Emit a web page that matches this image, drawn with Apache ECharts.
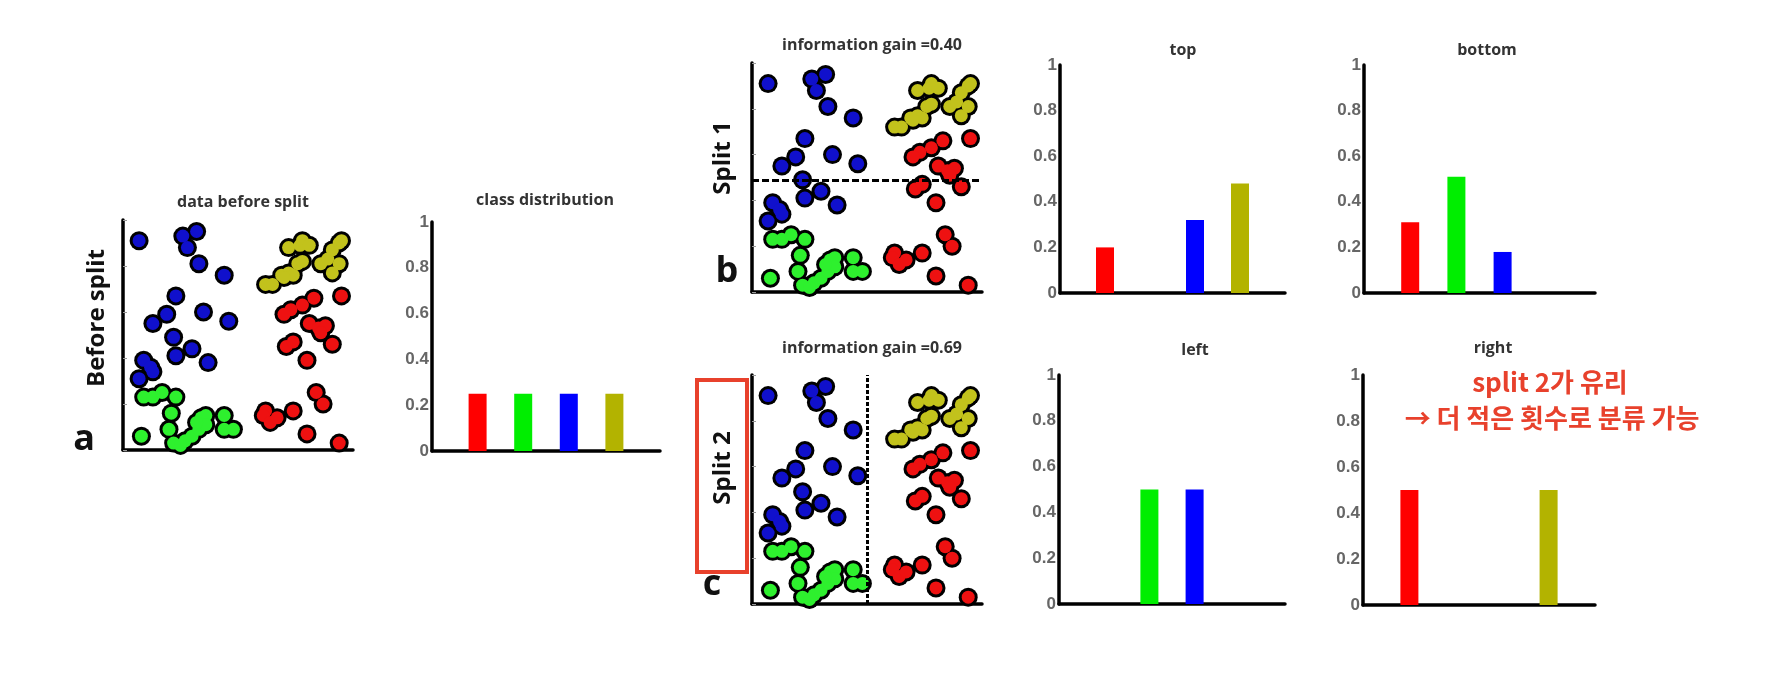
<!DOCTYPE html>
<html>
<head>
<meta charset="utf-8">
<script src="https://cdn.jsdelivr.net/npm/echarts@6/dist/echarts.min.js"></script>
<style>
  html, body { margin: 0; padding: 0; background: #fff; }
  #chart { width: 1778px; height: 682px; }
</style>
</head>
<body>
<div id="chart"></div>
<script>
// class order: red, green, blue, olive
const CLASS_COLORS = ['#ff0000', '#00ee00', '#0000ff', '#b3b300'];
const DOT_COLORS = ['#ee1111', '#2ef02e', '#1010cc', '#c2c21c'];

// bar positions on the 0..5 x axis
const BAR_X = [1, 2, 3, 4];
const Y_TICKS = [0, 0.2, 0.4, 0.6, 0.8, 1];

const BEFORE_DIST = [0.25, 0.25, 0.25, 0.25];
const TOP_DIST = [0.2, 0, 0.32, 0.48];
const BOTTOM_DIST = [0.31, 0.51, 0.18, 0];
const LEFT_DIST = [0, 0.5, 0.5, 0];
const RIGHT_DIST = [0.5, 0, 0, 0.5];

// scatter points (0..10 both ways)
const RED_PTS = [[9.5,6.7],[8.3,6.6],[7.8,6.3],[7.3,6.1],[7.0,5.9],[8.1,5.5],[8.5,5.3],[8.8,5.4],[8.6,5.1],[9.1,4.6],[7.1,4.5],[7.4,4.7],[8.0,3.9],[8.4,2.5],[8.7,2.0],[6.2,1.7],[6.1,1.5],[6.4,1.2],[7.4,1.7],[8.0,0.7],[9.4,0.3],[6.7,1.4]];
const GREEN_PTS = [[0.9,2.3],[1.3,2.3],[1.7,2.5],[2.3,2.3],[2.1,1.6],[0.8,0.6],[2.0,0.9],[2.2,0.3],[2.7,0.4],[3.0,0.6],[3.3,0.9],[3.4,1.4],[3.6,1.5],[3.6,1.1],[3.2,1.2],[4.4,1.5],[4.4,0.9],[4.8,0.9],[2.5,0.2]];
const BLUE_PTS = [[0.7,9.1],[2.6,9.3],[3.2,9.5],[2.8,8.8],[3.3,8.1],[4.4,7.6],[2.3,6.7],[1.9,5.9],[1.3,5.5],[3.5,6.0],[4.6,5.6],[2.2,4.9],[2.3,4.1],[3.0,4.4],[3.7,3.8],[0.9,3.9],[1.2,3.6],[0.7,3.1],[1.3,3.4]];
const OLIVE_PTS = [[6.2,7.2],[6.5,7.2],[6.9,7.6],[7.2,7.7],[7.4,7.6],[7.6,8.1],[7.8,8.2],[7.2,8.8],[7.7,8.9],[7.8,9.1],[8.1,8.9],[8.6,8.1],[8.9,8.3],[9.1,7.7],[9.4,8.1],[9.1,8.7],[9.4,9.0],[9.5,9.1],[7.0,7.5]];

const SPLIT1_Y = 4.9;
const SPLIT2_X = 5.0;

const chart = echarts.init(document.getElementById('chart'));

// grid boxes: scatter a, bars a, scatter b, top, bottom, scatter c, left, right
const GRIDS = [
  { left: 123, top: 220, width: 230, height: 230, kind: 'scatter' },
  { left: 432, top: 222, width: 228, height: 229, kind: 'bar', dist: BEFORE_DIST },
  { left: 752, top: 63, width: 230, height: 229, kind: 'scatter', split: 'h' },
  { left: 1060, top: 65, width: 225, height: 228, kind: 'bar', dist: TOP_DIST },
  { left: 1364, top: 65, width: 231, height: 228, kind: 'bar', dist: BOTTOM_DIST },
  { left: 752, top: 375, width: 230, height: 229, kind: 'scatter', split: 'v' },
  { left: 1059, top: 375, width: 226, height: 229, kind: 'bar', dist: LEFT_DIST },
  { left: 1363, top: 375, width: 232, height: 230, kind: 'bar', dist: RIGHT_DIST },
];

const axisLine = { show: true, onZero: false, lineStyle: { color: '#000', width: 3.5 } };

const grid = [], xAxis = [], yAxis = [], series = [];

GRIDS.forEach((g, i) => {
  grid.push({ left: g.left, top: g.top, width: g.width, height: g.height, outerBoundsMode: 'none' });
  if (g.kind === 'scatter') {
    xAxis.push({ gridIndex: i, type: 'value', min: 0, max: 10, axisLine,
      axisTick: { show: false }, axisLabel: { show: false }, splitLine: { show: false } });
    yAxis.push({ gridIndex: i, type: 'value', min: 0, max: 10, interval: 2, axisLine,
      axisTick: { show: true, inside: true, length: 4, lineStyle: { color: '#999', width: 1 } },
      axisLabel: { show: false }, splitLine: { show: false } });

    const sets = [RED_PTS, GREEN_PTS, BLUE_PTS, OLIVE_PTS];
    // black blobs first so overlapping dots share one outline
    sets.forEach((pts) => {
      series.push({ type: 'scatter', xAxisIndex: i, yAxisIndex: i, data: pts, symbolSize: 19,
        itemStyle: { color: '#000', opacity: 1 }, silent: true, z: 2 });
    });
    sets.forEach((pts, c) => {
      const s = { type: 'scatter', xAxisIndex: i, yAxisIndex: i, data: pts, symbolSize: 13,
        itemStyle: { color: DOT_COLORS[c], opacity: 1 }, silent: true, z: 3 };
      if (c === 0 && g.split) {
        s.markLine = {
          silent: true, symbol: 'none', label: { show: false }, animation: false,
          lineStyle: { color: '#000', width: 3, type: g.split === 'h' ? [7, 3] : [4, 2] },
          data: [g.split === 'h' ? { yAxis: SPLIT1_Y } : { xAxis: SPLIT2_X }],
        };
      }
      series.push(s);
    });
  } else {
    xAxis.push({ gridIndex: i, type: 'value', min: 0, max: 5, axisLine,
      axisTick: { show: false }, axisLabel: { show: false }, splitLine: { show: false } });
    yAxis.push({ gridIndex: i, type: 'value', min: Y_TICKS[0], max: Y_TICKS[Y_TICKS.length - 1], interval: 0.2, axisLine,
      axisTick: { show: false }, splitLine: { show: false },
      axisLabel: { color: '#666', fontSize: 17, fontWeight: 'bold', fontFamily: 'Liberation Sans', margin: 3 } });
    const data = [];
    g.dist.forEach((v, c) => {
      if (v > 0) data.push({ value: [BAR_X[c], v], itemStyle: { color: CLASS_COLORS[c] } });
    });
    series.push({ type: 'bar', xAxisIndex: i, yAxisIndex: i, data, barWidth: 18, silent: true, z: 1 });
  }
});

function label(text, x, y, size, color, rotation) {
  return {
    type: 'text', x, y, rotation: rotation || 0, silent: true, z: 10,
    style: { text, align: 'center', verticalAlign: 'middle', fill: color,
      font: `bold ${size}px "Open Sans", sans-serif` },
  };
}

const graphic = [
  label('data before split', 243, 202, 16, '#333'),
  label('class distribution', 545, 200, 16, '#333'),
  label('information gain =0.40', 872, 45, 16, '#333'),
  label('information gain =0.69', 872, 348, 16, '#333'),
  label('top', 1183, 50, 16, '#333'),
  label('bottom', 1487, 50, 16, '#333'),
  label('left', 1195, 350, 16, '#333'),
  label('right', 1493, 348, 16, '#333'),
  label('Before split', 97, 318, 24, '#111', Math.PI / 2),
  label('Split 1', 723, 158, 24, '#111', Math.PI / 2),
  label('Split 2', 723, 468, 24, '#111', Math.PI / 2),
  label('a', 84, 440, 36, '#111'),
  label('b', 727, 272, 36, '#111'),
  label('c', 712, 585, 36, '#111'),
  {
    type: 'rect', silent: true, z: 10,
    shape: { x: 697, y: 380, width: 50, height: 192 },
    style: { fill: 'none', stroke: '#e8412c', lineWidth: 4 },
  },
  {
    type: 'text', x: 1550, y: 382, silent: true, z: 10,
    style: { text: 'split 2가 유리', align: 'center', verticalAlign: 'middle', fill: '#e8412c',
      font: 'bold 26px "Noto Sans CJK KR", sans-serif' },
  },
  {
    type: 'text', x: 1552, y: 418, silent: true, z: 10,
    style: { text: '→ 더 적은 횟수로 분류 가능', align: 'center', verticalAlign: 'middle', fill: '#e8412c',
      font: 'bold 26px "Noto Sans CJK KR", sans-serif' },
  },
];

chart.setOption({
  animation: false,
  backgroundColor: '#fff',
  grid, xAxis, yAxis, series, graphic,
});
</script>
</body>
</html>
